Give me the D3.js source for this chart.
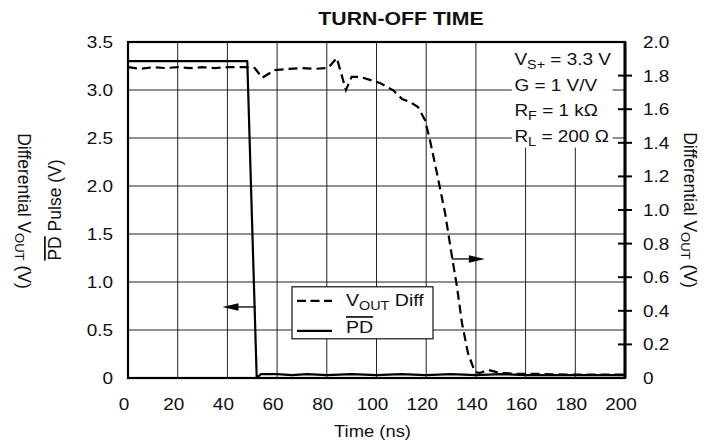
<!DOCTYPE html>
<html>
<head>
<meta charset="utf-8">
<script src="https://cdn.jsdelivr.net/npm/d3@7"></script>
<style>
  html, body { margin: 0; padding: 0; background: #fff; }
  svg text { font-family: "Liberation Sans", Arial, Helvetica, sans-serif; fill: #111; }
</style>
</head>
<body>
<div id="chart"></div>
<script>
// Turn-off time: PD pulse (left axis) and differential VOUT (right axis)

const TIME_TICKS  = [0, 20, 40, 60, 80, 100, 120, 140, 160, 180, 200];
const LEFT_TICKS  = [0, 0.5, 1.0, 1.5, 2.0, 2.5, 3.0, 3.5];
const RIGHT_TICKS = [0, 0.2, 0.4, 0.6, 0.8, 1.0, 1.2, 1.4, 1.6, 1.8, 2.0];

// VOUT Diff (right axis, V)
const VOUT_T = [0, 5, 10, 15, 20, 25, 30, 35, 40, 45, 47, 51, 54, 59, 65, 70, 75, 80.5, 84, 87.7, 90, 93.4, 101.4, 106.6, 110.3, 113.5, 116.7, 119.5, 121.5, 124.3, 127.6, 130.4, 132.4, 134.4, 136.8, 139.6, 141.6, 144.9, 149.7, 157.7, 165.8, 180, 200];
const VOUT_V = [1.85, 1.84, 1.85, 1.845, 1.85, 1.845, 1.85, 1.845, 1.85, 1.85, 1.85, 1.845, 1.787, 1.833, 1.84, 1.845, 1.84, 1.845, 1.905, 1.714, 1.792, 1.792, 1.756, 1.714, 1.661, 1.643, 1.613, 1.536, 1.417, 1.22, 0.982, 0.72, 0.542, 0.327, 0.149, 0.036, 0.03, 0.048, 0.03, 0.024, 0.024, 0.02, 0.02];

// PD pulse (left axis, V)
const PD_T = [0, 48, 51.8, 53.5, 60, 66, 72, 80, 90, 100, 110, 120, 130, 140, 150, 160, 170, 180, 190, 200];
const PD_V = [3.3, 3.3, 0, 0.04, 0.04, 0.03, 0.04, 0.03, 0.04, 0.03, 0.04, 0.03, 0.04, 0.03, 0.04, 0.03, 0.03, 0.03, 0.03, 0.03];

const W = 716, H = 445;
const margin = { top: 42, right: 91, bottom: 67, left: 128 };
const innerW = W - margin.left - margin.right;
const innerH = H - margin.top - margin.bottom;
const SX = 1.15; // glyphs in the original are a bit wider than Liberation Sans

const x  = d3.scaleLinear().domain([0, 200]).range([0, innerW]);
const yL = d3.scaleLinear().domain([0, 3.5]).range([innerH, 0]);
const yR = d3.scaleLinear().domain([0, 2.0]).range([innerH, 0]);

const svg = d3.select("#chart").append("svg").attr("width", W).attr("height", H);
const g = svg.append("g").attr("transform", `translate(${margin.left},${margin.top})`);

// horizontal text with a little width stretch
function htext(sel, px, py, size) {
  return sel.append("text").attr("transform", `translate(${px},${py}) scale(${SX},1)`).attr("font-size", size);
}

// grid
g.append("g").selectAll("line").data(TIME_TICKS.slice(1, -1)).join("line")
  .attr("x1", d => x(d)).attr("x2", d => x(d)).attr("y1", 0).attr("y2", innerH)
  .attr("stroke", "#222").attr("stroke-width", 1);
g.append("g").selectAll("line").data(LEFT_TICKS.slice(1, -1)).join("line")
  .attr("x1", 0).attr("x2", innerW).attr("y1", d => yL(d)).attr("y2", d => yL(d))
  .attr("stroke", "#222").attr("stroke-width", 1);

// white box behind conditions
g.append("rect").attr("x", x(154.5)).attr("y", 0).attr("width", x(195) - x(154.5)).attr("height", yL(2.4))
  .attr("fill", "#fff");

const condLines = [
  [["V", 0], ["S+", 1], [" = 3.3 V", 0]],
  [["G = 1 V/V", 0]],
  [["R", 0], ["F", 1], [" = 1 k\u03A9", 0]],
  [["R", 0], ["L", 1], [" = 200 \u03A9", 0]]
];
condLines.forEach((parts, i) => {
  const t = htext(g, x(155.5), 23 + i * 25.5, 16.5);
  let sub = false;
  parts.forEach(([s, isSub]) => {
    const ts = t.append("tspan").text(s);
    if (isSub && !sub) { ts.attr("dy", 4).attr("font-size", 12.5); sub = true; }
    else if (!isSub && sub) { ts.attr("dy", -4); sub = false; }
  });
});

// lines
const lineR = d3.line().x(d => x(d[0])).y(d => yR(d[1]));
const lineL = d3.line().x(d => x(d[0])).y(d => yL(d[1]));

g.append("path").datum(PD_T.map((t, i) => [t, PD_V[i]]))
  .attr("d", lineL).attr("fill", "none").attr("stroke", "#000").attr("stroke-width", 2.2)
  .attr("stroke-linejoin", "round");
g.append("path").datum(VOUT_T.map((t, i) => [t, VOUT_V[i]]))
  .attr("d", lineR).attr("fill", "none").attr("stroke", "#000").attr("stroke-width", 2.2)
  .attr("stroke-dasharray", "9,5");

// arrows
function arrow(t0, t1, yv) {
  const dir = Math.sign(x(t1) - x(t0));
  const xe = x(t1), yy = yL(yv);
  g.append("line").attr("x1", x(t0)).attr("x2", xe - dir * 14).attr("y1", yy).attr("y2", yy)
    .attr("stroke", "#000").attr("stroke-width", 1.3);
  g.append("path").attr("d", `M${xe},${yy}L${xe - dir * 16},${yy - 3.8}L${xe - dir * 16},${yy + 3.8}Z`)
    .attr("fill", "#000");
}
arrow(51.5, 38, 0.74);
arrow(130.3, 143.6, 1.24);

// frame and axes
g.append("rect").attr("width", innerW).attr("height", innerH).attr("fill", "none")
  .attr("stroke", "#000").attr("stroke-width", 2.2);
g.append("line").attr("x1", innerW).attr("x2", innerW).attr("y1", 0).attr("y2", innerH)
  .attr("stroke", "#000").attr("stroke-width", 3);
g.append("g").selectAll("line").data(RIGHT_TICKS.slice(1, -1)).join("line")
  .attr("x1", innerW - 7).attr("x2", innerW + 7).attr("y1", d => yR(d)).attr("y2", d => yR(d))
  .attr("stroke", "#000").attr("stroke-width", 2);

const fmt = d => d === 0 ? "0" : d3.format(".1f")(d);
LEFT_TICKS.forEach(d => htext(g, -15, yL(d), 16.5).attr("dy", "0.36em").attr("text-anchor", "end").text(fmt(d)));
RIGHT_TICKS.forEach(d => htext(g, innerW + 18, yR(d), 16.5).attr("dy", "0.36em").text(fmt(d)));
TIME_TICKS.forEach(d => htext(g, x(d) - 4, innerH + 32, 16.5).attr("text-anchor", "middle").text(d));

// legend
const lg = g.append("g").attr("transform", `translate(${x(66)},${yL(0.95)})`);
lg.append("rect").attr("width", 141).attr("height", 52).attr("fill", "#fff").attr("stroke", "#111").attr("stroke-width", 1.2);
lg.append("line").attr("x1", 5).attr("x2", 40).attr("y1", 14).attr("y2", 14)
  .attr("stroke", "#000").attr("stroke-width", 2.2).attr("stroke-dasharray", "9,4.5");
lg.append("line").attr("x1", 5).attr("x2", 40).attr("y1", 44).attr("y2", 44)
  .attr("stroke", "#000").attr("stroke-width", 2.2);
const l1 = htext(lg, 54, 19, 17);
l1.append("tspan").text("V");
l1.append("tspan").attr("dy", 4).attr("font-size", 12.5).text("OUT");
l1.append("tspan").attr("dy", -4).text(" Diff");
htext(lg, 54, 46, 17).attr("text-decoration", "overline").text("PD");

// title and axis titles
htext(svg, 401, 25, 18.5).attr("text-anchor", "middle").attr("font-weight", "bold").text("TURN-OFF TIME");
htext(svg, (margin.left + W - margin.right) / 2 - 4, 437, 16).attr("text-anchor", "middle").text("Time (ns)");

function voutLabel(xc, yc, rot) {
  const t = svg.append("text").attr("transform", `translate(${xc},${yc}) rotate(${rot})`)
    .attr("text-anchor", "middle").attr("dominant-baseline", "central").attr("font-size", 17.5);
  t.append("tspan").text("Differential V");
  t.append("tspan").attr("dy", 4).attr("font-size", 13).text("OUT");
  t.append("tspan").attr("dy", -4).text(" (V)");
}
voutLabel(24, 211, 90);
voutLabel(690, 210, 90);

const pd = svg.append("text").attr("transform", `translate(55,210) rotate(-90)`)
  .attr("text-anchor", "middle").attr("dominant-baseline", "central").attr("font-size", 17.5);
pd.append("tspan").attr("text-decoration", "overline").text("PD");
pd.append("tspan").text(" Pulse (V)");
</script>
</body>
</html>
